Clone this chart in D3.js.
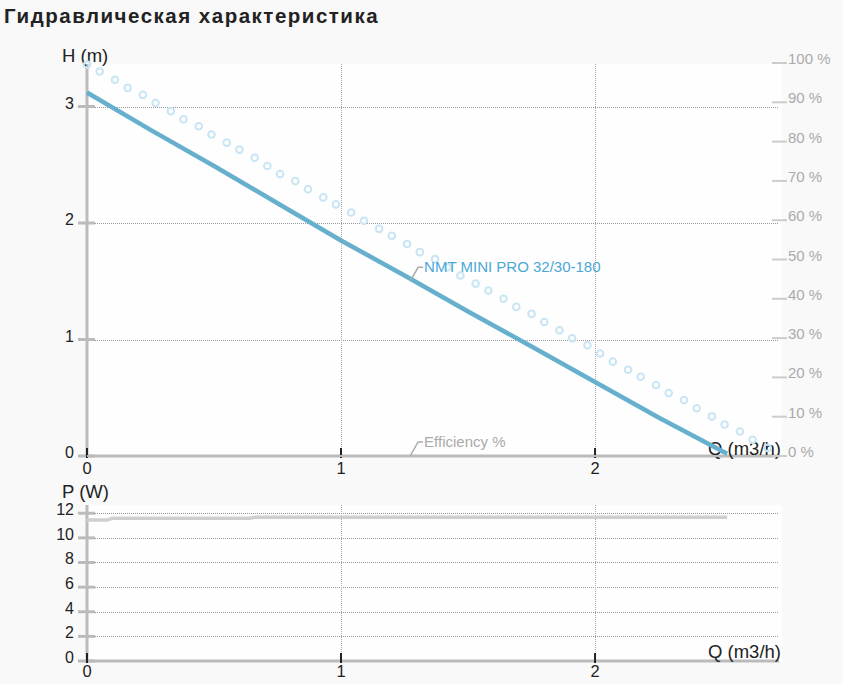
<!DOCTYPE html>
<html><head><meta charset="utf-8">
<script src="https://cdn.jsdelivr.net/npm/d3@7"></script>
<style>
html,body{margin:0;padding:0;background:#f9f9f9;}
svg{display:block;font-family:"Liberation Sans",Arial,sans-serif;}
</style></head><body>
<svg id="c" width="843" height="684"></svg>
<script>
// ---- data ----
const title = "Гидравлическая характеристика";
const seriesName = "NMT MINI PRO 32/30-180";
const effName = "Efficiency %";
const qTicks = [0, 1, 2];
const hTicks = [0, 1, 2, 3];
const pTicks = [0, 2, 4, 6, 8, 10, 12];
const effTicks = [0, 10, 20, 30, 40, 50, 60, 70, 80, 90, 100];
// H curve (Q m3/h, H m)
const hQ = [0, 0.25, 0.5, 0.75, 1, 1.25, 1.5, 1.75, 2, 2.25, 2.52];
const hH = [3.12, 2.80, 2.49, 2.17, 1.85, 1.55, 1.24, 0.94, 0.635, 0.33, 0.02];
// light dotted (circle markers) curve
const dotQ = [0,0.05,0.11,0.16,0.22,0.27,0.33,0.38,0.44,0.49,0.55,0.60,0.66,0.71,0.76,0.82,0.87,0.93,0.98,1.04,1.09,1.15,1.20,1.26,1.31,1.37,1.42,1.47,1.53,1.58,1.64,1.69,1.75,1.80,1.86,1.91,1.97,2.02,2.07,2.13,2.18,2.24,2.29,2.35,2.40,2.46,2.51,2.57,2.62,2.68];
const dotH = [3.36,3.30,3.23,3.16,3.10,3.03,2.96,2.89,2.83,2.76,2.69,2.63,2.56,2.49,2.42,2.36,2.29,2.22,2.16,2.09,2.02,1.95,1.89,1.82,1.75,1.69,1.62,1.55,1.48,1.42,1.35,1.28,1.22,1.15,1.08,1.01,0.95,0.88,0.81,0.74,0.68,0.61,0.54,0.48,0.41,0.34,0.27,0.21,0.14,0.07];
// efficiency (flat zero)
const effQ = [0, 2.52];
const effV = [0, 0];
// power curve
const pQ = [0, 0.08, 0.10, 0.64, 0.66, 2.52];
const pW = [11.45, 11.45, 11.6, 11.6, 11.68, 11.68];

// ---- chart ----
const svg = d3.select("#c");
const X0 = 87, X1 = 782;
const x = d3.scaleLinear().domain([0, 2.736]).range([X0, X1]);
const yH = d3.scaleLinear().domain([0, 3.365]).range([456, 64]);
const yE = d3.scaleLinear().domain([0, 100]).range([456, 63]);
const yP = d3.scaleLinear().domain([0, 12.67]).range([661, 505]);

svg.append("text").attr("x", 4).attr("y", 23).attr("font-size", 20.5).attr("font-weight", "bold")
  .attr("letter-spacing", 1.5).attr("fill", "#222").text(title);

function panel(y, ticks, tickFmt, yLabel, yLabelY, xLabelY, xTickLabelY) {
  const top = y.range()[1], bot = y.range()[0];
  svg.append("rect").attr("x", X0).attr("y", top).attr("width", X1 - X0).attr("height", bot - top).attr("fill", "#fefefe");
  const g = svg.append("g");
  g.selectAll(".hg").data(ticks.filter(t => t > 0)).join("line")
    .attr("x1", X0).attr("x2", 778).attr("y1", d => Math.round(y(d)) + 0.5).attr("y2", d => Math.round(y(d)) + 0.5)
    .attr("stroke", "#999").attr("stroke-width", 1).attr("stroke-dasharray", "1,1");
  g.selectAll(".vg").data(qTicks.filter(t => t > 0)).join("line")
    .attr("x1", d => Math.round(x(d)) + 0.5).attr("x2", d => Math.round(x(d)) + 0.5).attr("y1", top).attr("y2", bot)
    .attr("stroke", "#aaa").attr("stroke-width", 1).attr("stroke-dasharray", "1,1");
  g.append("line").attr("x1", X0).attr("x2", X0).attr("y1", top).attr("y2", bot).attr("stroke", "#bbb").attr("stroke-width", 3);
  g.selectAll(".yt").data(ticks).join("line").attr("x1", 78).attr("x2", 95)
    .attr("y1", d => y(d)).attr("y2", d => y(d)).attr("stroke", "#bbb").attr("stroke-width", 3);
  g.selectAll(".yl").data(ticks).join("text").attr("x", 74).attr("y", d => y(d) + 2)
    .attr("text-anchor", "end").attr("font-size", 16).attr("fill", "#222").text(tickFmt);
  g.append("line").attr("x1", X0 - 2).attr("x2", 779).attr("y1", bot).attr("y2", bot).attr("stroke", "#bbb").attr("stroke-width", 3);
  g.selectAll(".xt").data(qTicks).join("line").attr("x1", d => x(d)).attr("x2", d => x(d))
    .attr("y1", bot - 8).attr("y2", bot + 2).attr("stroke", "#222").attr("stroke-width", 2);
  g.selectAll(".xl").data(qTicks).join("text").attr("x", d => x(d)).attr("y", xTickLabelY)
    .attr("text-anchor", "middle").attr("font-size", 16.5).attr("fill", "#222").text(d => d);
  g.append("text").attr("class", "ylab").attr("x", 62).attr("y", yLabelY).attr("font-size", 18.5).attr("fill", "#222").text(yLabel);
  g.append("text").attr("class", "qlab").attr("x", 781).attr("y", xLabelY).attr("text-anchor", "end").attr("font-size", 18.5).attr("fill", "#222").text("Q (m3/h)");
}

panel(yH, hTicks, d => d, "H (m)", 62, 455, 474);
panel(yP, pTicks, d => d, "P (W)", 498, 658, 677);

// right efficiency axis
const ge = svg.append("g");
ge.selectAll("line").data(effTicks).join("line").attr("x1", 772).attr("x2", 787)
  .attr("y1", d => yE(d)).attr("y2", d => yE(d)).attr("stroke", "#ccc").attr("stroke-width", 2);
ge.selectAll("text").data(effTicks).join("text").attr("x", 788).attr("y", d => yE(d) + 1)
  .attr("font-size", 15).attr("fill", "#aaa").text(d => d + " %");

// efficiency flat series
const effPts = effQ.map((q, i) => [q, effV[i]]);
svg.append("path").datum(effPts).attr("fill", "none").attr("stroke", "#bbb").attr("stroke-width", 2)
  .attr("d", d3.line().x(d => x(d[0])).y(d => yE(d[1])));

// dotted circles
const dots = dotQ.map((q, i) => [q, dotH[i]]);
svg.append("g").selectAll("circle").data(dots).join("circle")
  .attr("cx", d => x(d[0])).attr("cy", d => yH(d[1])).attr("r", 3.3)
  .attr("fill", "none").attr("stroke", "#c8e5f4").attr("stroke-width", 2);

// H curve
const hPts = hQ.map((q, i) => [q, hH[i]]);
svg.append("path").datum(hPts).attr("fill", "none").attr("stroke", "#67b0cd").attr("stroke-width", 4.5)
  .attr("d", d3.line().x(d => x(d[0])).y(d => yH(d[1])));

// Power curve
const pPts = pQ.map((q, i) => [q, pW[i]]);
svg.append("path").datum(pPts).attr("fill", "none").attr("stroke", "#cfcfcf").attr("stroke-width", 3.5)
  .attr("d", d3.line().x(d => x(d[0])).y(d => yP(d[1])));

svg.selectAll(".qlab, .ylab").raise();

// labels with leaders
function leader(qx, yv, txt, color) {
  const px = x(qx), py = yv;
  svg.append("path").attr("d", `M${px},${py}L${px + 8},${py - 14}L${px + 13},${py - 14}`)
    .attr("fill", "none").attr("stroke", "#aaa").attr("stroke-width", 1.5);
  svg.append("text").attr("x", px + 14).attr("y", py - 9).attr("font-size", 15).attr("fill", color).text(txt);
}
leader(1.272, yH(1.50), seriesName, "#4aa8d6");
leader(1.272, yE(0), effName, "#aaa");
</script>
</body></html>
